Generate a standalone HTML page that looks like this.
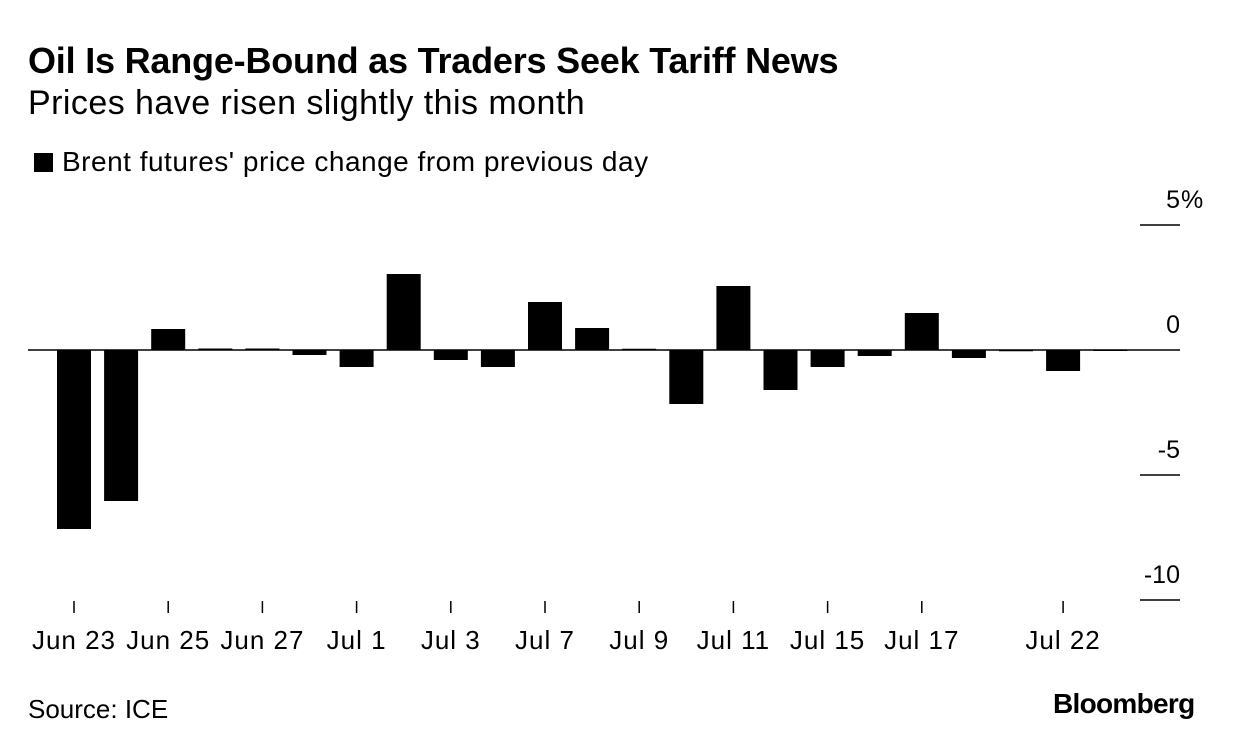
<!DOCTYPE html>
<html><head><meta charset="utf-8"><style>
body{margin:0;background:#fff;font-family:"Liberation Sans",Arial,sans-serif;color:#000}
#wrap{position:relative;width:1233px;height:750px;overflow:hidden}
.t{position:absolute;white-space:nowrap}
</style></head><body><div id="wrap">
<div class="t" style="left:28px;top:40px;font-size:36px;font-weight:bold;letter-spacing:-0.2px">Oil Is Range-Bound as Traders Seek Tariff News</div>
<div class="t" style="left:28px;top:84px;font-size:34px;letter-spacing:0.45px">Prices have risen slightly this month</div>
<div class="t" style="left:34px;top:146px;font-size:28px;letter-spacing:0.5px"><span style="display:inline-block;width:19px;height:19px;background:#000;margin-right:9px;vertical-align:-1px"></span>Brent futures' price change from previous day</div>
<svg id="svg" width="1233" height="750" style="position:absolute;left:0;top:0"></svg>
<div class="t" style="left:28px;top:694px;font-size:26px">Source: ICE</div>
<div class="t" style="left:1053px;top:688px;font-size:28px;font-weight:bold;letter-spacing:-0.7px">Bloomberg</div>
</div>
<script>
const categories=["Jun 23","Jun 24","Jun 25","Jun 26","Jun 27","Jun 30","Jul 1","Jul 2","Jul 3","Jul 4","Jul 7","Jul 8","Jul 9","Jul 10","Jul 11","Jul 14","Jul 15","Jul 16","Jul 17","Jul 18","Jul 21","Jul 22","Jul 23"];
const values=[-7.16,-6.04,0.84,0.06,0.06,-0.2,-0.68,3.04,-0.4,-0.68,1.92,0.88,0.05,-2.16,2.56,-1.6,-0.68,-0.24,1.48,-0.32,-0.05,-0.84,-0.03];
const xTickLabels=["Jun 23","Jun 25","Jun 27","Jul 1","Jul 3","Jul 7","Jul 9","Jul 11","Jul 15","Jul 17","Jul 22"];
const yTicks=[5,0,-5,-10];
const yTickLabels=["5","0","-5","-10"];
const NS="http://www.w3.org/2000/svg",svg=document.getElementById('svg');
const y=v=>350-v*25;
const x=i=>74+i*47.1;
function mk(t,a){const e=document.createElementNS(NS,t);for(const k in a)e.setAttribute(k,a[k]);svg.appendChild(e);return e;}
values.forEach((v,i)=>{
 const r=mk('rect',{x:x(i)-17,y:Math.min(y(v),y(0)),width:34,height:Math.max(Math.abs(y(v)-y(0)),1),fill:'#000'});
 
 
});
const zl=mk('line',{x1:28,x2:1180,y1:y(0),y2:y(0),stroke:'#000','stroke-width':1.5});


yTicks.forEach((v,i)=>{
 if(v!==0){const l=mk('line',{x1:1140,x2:1180,y1:y(v),y2:y(v),stroke:'#000','stroke-width':1.5});
 
 }
 const t=mk('text',{x:1180,y:y(v)-17,'text-anchor':'end','font-size':25,'font-family':'Liberation Sans, Arial, sans-serif'});
 t.textContent=yTickLabels[i];
 
 
 if(i===0){const p=mk('text',{x:1181,y:y(v)-17,'font-size':25,'font-family':'Liberation Sans, Arial, sans-serif'});
 p.textContent='%';
 
 }
});
xTickLabels.forEach(lab=>{
 const i=categories.indexOf(lab);
 const l=mk('line',{x1:x(i),x2:x(i),y1:601,y2:613,stroke:'#000','stroke-width':1.5});
 
 
 const t=mk('text',{x:x(i),y:649,'text-anchor':'middle','font-size':26,'letter-spacing':'1','font-family':'Liberation Sans, Arial, sans-serif'});
 t.textContent=lab;
 
 
});
</script></body></html>
